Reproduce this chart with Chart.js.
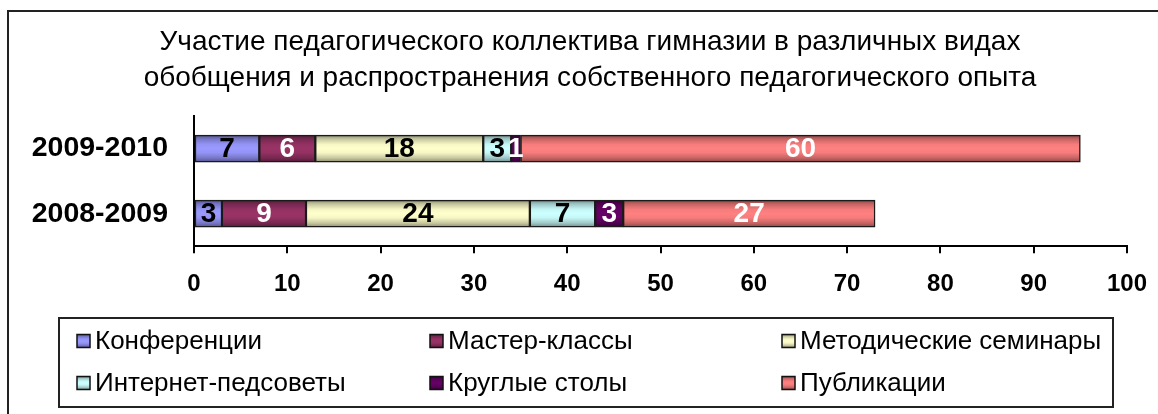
<!DOCTYPE html>
<html><head><meta charset="utf-8">
<script src="https://cdn.jsdelivr.net/npm/chart.js@4/dist/chart.umd.min.js"></script>
<style>html,body{margin:0;padding:0;background:#fff;}canvas{display:block}</style>
</head><body>
<canvas id="c" width="1158" height="414"></canvas>
<script>
const titleLines = ['Участие педагогического коллектива гимназии в различных видах', 'обобщения и распространения собственного педагогического опыта'];
const categories = ['2009-2010', '2008-2009'];
const seriesNames = ['Конференции', 'Мастер-классы', 'Методические семинары', 'Интернет-педсоветы', 'Круглые столы', 'Публикации'];
const konferencii = [7, 3];
const masterKlassy = [6, 9];
const metodSeminary = [18, 24];
const internetPedsovety = [3, 7];
const kruglyeStoly = [1, 3];
const publikacii = [60, 27];
const xTicks = [0, 10, 20, 30, 40, 50, 60, 70, 80, 90, 100];
const seriesColors = ['#9999FF', '#993366', '#FFFFCC', '#CCFFFF', '#660066', '#FF8080'];
const labelColors = ['#000', '#fff', '#000', '#000', '#fff', '#fff'];

const FONT = "'Liberation Sans', Arial, sans-serif";
const BAR_T = 27;

function shade(hex, f) {
  const n = parseInt(hex.slice(1), 16);
  const r = Math.round(((n >> 16) & 255) * f), g = Math.round(((n >> 8) & 255) * f), b = Math.round((n & 255) * f);
  return `rgb(${r},${g},${b})`;
}
function grad(c, hex, y0, y1) {
  if (!isFinite(y0) || !isFinite(y1)) return hex;
  const g = c.createLinearGradient(0, y0, 0, y1);
  g.addColorStop(0, shade(hex, 0.55));
  g.addColorStop(0.15, shade(hex, 0.78));
  g.addColorStop(0.35, shade(hex, 0.97));
  g.addColorStop(0.5, shade(hex, 1));
  g.addColorStop(0.65, shade(hex, 0.97));
  g.addColorStop(0.85, shade(hex, 0.78));
  g.addColorStop(1, shade(hex, 0.55));
  return g;
}

const seriesData = [konferencii, masterKlassy, metodSeminary, internetPedsovety, kruglyeStoly, publikacii];

const datasets = seriesNames.map((name, i) => ({
  label: name,
  data: seriesData[i],
  backgroundColor: (ctx) => {
    const ch = ctx.chart;
    const ys = ch.scales && ch.scales.y;
    if (!ys || ctx.type !== 'data') return seriesColors[i];
    const yc = ys.getPixelForValue(ctx.dataIndex);
    return grad(ch.ctx, seriesColors[i], yc - BAR_T / 2, yc + BAR_T / 2);
  },
  borderColor: '#1a1a1a',
  borderWidth: 1.5,
  borderSkipped: false,
  barThickness: BAR_T
}));

const framePlugin = {
  id: 'frame',
  afterLayout(chart) {
    if (chart.titleBlock) { chart.titleBlock.right = chart.width; }
  },
  beforeDraw(chart) {
    const c = chart.ctx;
    c.save();
    c.fillStyle = '#fff';
    c.fillRect(0, 0, chart.width, chart.height);
    c.strokeStyle = '#222';
    c.lineWidth = 2;
    c.beginPath();
    c.moveTo(8, chart.height);
    c.lineTo(8, 11);
    c.lineTo(chart.width, 11);
    c.stroke();
    c.restore();
  }
};

const valueLabels = {
  id: 'valueLabels',
  afterDatasetsDraw(chart) {
    const c = chart.ctx;
    c.save();
    c.font = `bold 28px ${FONT}`;
    c.textAlign = 'center';
    c.textBaseline = 'middle';
    chart.data.datasets.forEach((ds, i) => {
      const meta = chart.getDatasetMeta(i);
      meta.data.forEach((el, j) => {
        const p = el.getCenterPoint();
        c.fillStyle = labelColors[i];
        c.fillText(String(ds.data[j]), p.x, p.y + 1);
      });
    });
    c.restore();
  }
};

const boxLegend = {
  id: 'boxLegend',
  afterDraw(chart) {
    const c = chart.ctx;
    c.save();
    c.strokeStyle = '#222';
    c.lineWidth = 2;
    c.strokeRect(59, 318, 1054, 89);
    const cols = [77, 430, 782];
    const rows = [341, 383];
    c.font = `26px ${FONT}`;
    c.textBaseline = 'middle';
    c.textAlign = 'left';
    seriesNames.forEach((name, i) => {
      const x = cols[i % 3], y = rows[Math.floor(i / 3)];
      c.fillStyle = grad(c, seriesColors[i], y - 6.5, y + 6.5);
      c.fillRect(x, y - 6.5, 13, 13);
      c.strokeStyle = '#111';
      c.lineWidth = 1.5;
      c.strokeRect(x, y - 6.5, 13, 13);
      c.fillStyle = '#000';
      c.fillText(name, x + 18, y + 1);
    });
    c.restore();
  }
};

new Chart(document.getElementById('c'), {
  type: 'bar',
  data: { labels: categories, datasets },
  options: {
    indexAxis: 'y',
    responsive: false,
    animation: false,
    devicePixelRatio: 1,
    layout: { padding: { left: 22, right: 31, top: 10, bottom: 98 } },
    plugins: {
      legend: { display: false },
      tooltip: { enabled: false },
      title: {
        display: true,
        text: titleLines,
        color: '#000',
        font: { family: FONT, size: 28, weight: 'normal', lineHeight: 1.286 },
        padding: { top: 14, bottom: 20 }
      }
    },
    scales: {
      x: {
        stacked: true,
        min: 0, max: 100,
        afterBuildTicks: (s) => { s.ticks = xTicks.map(v => ({ value: v })); },
        afterFit: (s) => { s.paddingLeft = 0; s.paddingRight = 0; },
        grid: { display: true, drawOnChartArea: false, drawTicks: true, tickLength: 7, color: '#000', lineWidth: 2 },
        border: { display: true, color: '#000', width: 2 },
        ticks: { color: '#000', font: { family: FONT, size: 24, weight: 'bold' }, padding: 17, maxRotation: 0, autoSkip: false }
      },
      y: {
        stacked: true,
        grid: { display: false },
        border: { display: true, color: '#000', width: 2 },
        afterFit: (s) => { s.width = 172; },
        ticks: { color: '#000', font: { family: FONT, size: 28.5, weight: 'bold' }, padding: 18 }
      }
    }
  },
  plugins: [framePlugin, valueLabels, boxLegend]
});
</script>
</body></html>
